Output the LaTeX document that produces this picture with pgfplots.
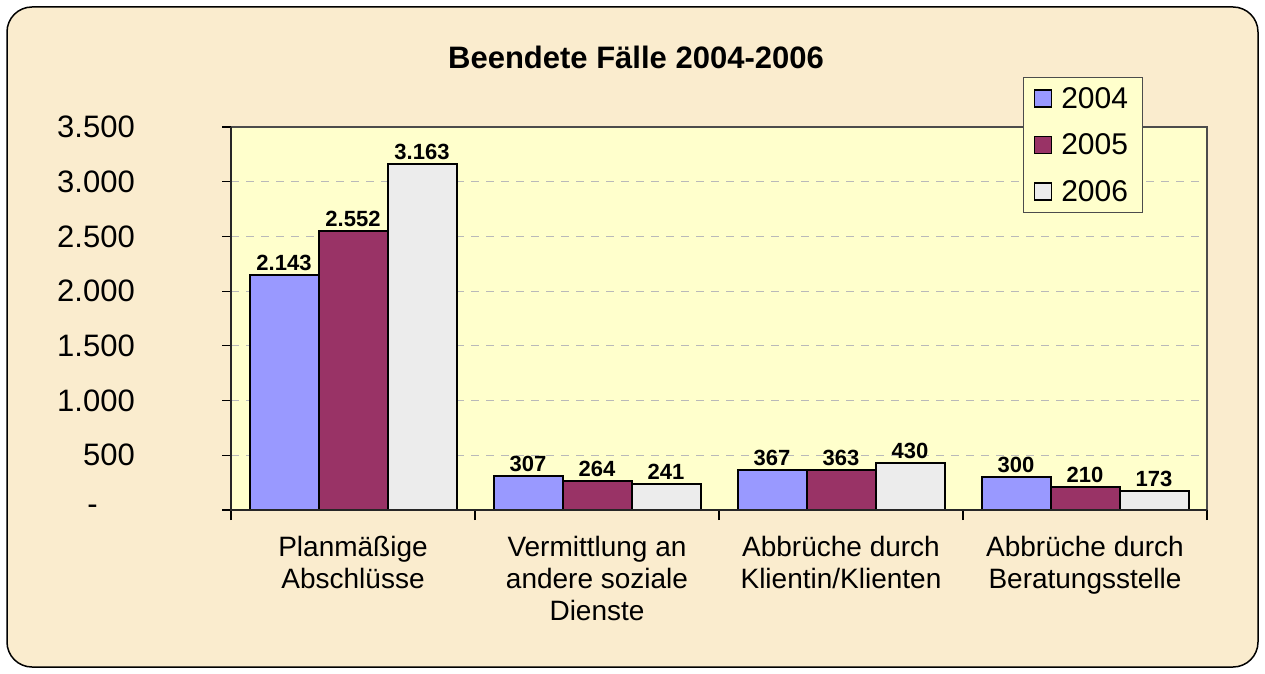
\documentclass[border=0pt]{standalone}
\usepackage{fontspec}
\setmainfont{Liberation Sans}
\usepackage{pgfplots}
\pgfplotsset{compat=1.18}
\definecolor{bgbeige}{RGB}{250,236,206}
\definecolor{plotyellow}{RGB}{255,255,204}
\definecolor{cA}{RGB}{153,153,255}
\definecolor{cB}{RGB}{153,51,102}
\definecolor{cC}{RGB}{236,236,236}
\begin{document}
\begin{tikzpicture}[x=1pt,y=1pt]
\path[use as bounding box] (0,0) rectangle (1265,673);
\draw[line width=1.5pt, fill=bgbeige, rounded corners=25pt] (7,6) rectangle (1258,666);
\node[font=\fontsize{31}{37}\selectfont\bfseries] at (636,616) {Beendete Fälle 2004-2006};
\begin{axis}[
  at={(231pt,163pt)}, anchor=south west,
  scale only axis, width=976pt, height=383pt,
  xmin=0.5, xmax=4.5, ymin=0, ymax=3500,
  clip=false,
  ybar=0pt, bar width=69pt,
  axis line style={draw=none},
  axis background/.style={fill=plotyellow},
  tick pos=left, tick align=outside,
  major tick length=9pt, minor tick length=10pt,
  tick style={black, line width=1.2pt},
  xtick={1,2,3,4},
  xticklabels={{Planmäßige\\Abschlüsse},{Vermittlung an\\andere soziale\\Dienste},{Abbrüche durch\\Klientin/Klienten},{Abbrüche durch\\Beratungsstelle}},
  major x tick style={draw=none},
  minor xtick={0.5,1.5,2.5,3.5,4.5},
  xticklabel style={font=\fontsize{28}{32}\selectfont, align=center, anchor=north, inner sep=0pt, yshift=-17pt},
  ytick={0,500,1000,1500,2000,2500,3000,3500},
  yticklabels={{-\hspace*{37pt}},500,1.000,1.500,2.000,2.500,3.000,3.500},
  yticklabel style={font=\fontsize{31}{37}\selectfont, anchor=east, inner sep=0pt, xshift=-87pt},
  ymajorgrids,
  major grid style={dash pattern=on 8pt off 7pt, gray!55, line width=1pt},
  nodes near coords={\pgfmathprintnumber[1000 sep={.}, assume math mode=true]{\pgfplotspointmeta}},
  every node near coord/.append style={font=\fontsize{22}{26}\selectfont\bfseries, inner sep=3.5pt, black},
  legend style={at={(axis description cs:0.8115,1.1305)}, anchor=north west,
    fill=plotyellow, draw=gray!60!black, line width=1pt,
    font=\fontsize{30}{36}\selectfont, inner sep=10pt, row sep=24pt,
    nodes={inner sep=0pt}},
  legend cell align=left,
  sq/.style={legend image code/.code={\draw[##1, line width=1.5pt] (0pt,-8.5pt) rectangle (17pt,8.5pt); \path[draw=none,fill=none] (0pt,0pt) -- (27pt,0pt);}},
]
\addplot[fill=cA, draw=black, line width=2pt, sq] coordinates {(1,2143) (2,307) (3,367) (4,300)};
\addplot[fill=cB, draw=black, line width=2pt, sq] coordinates {(1,2552) (2,264) (3,363) (4,210)};
\addplot[fill=cC, draw=black, line width=2pt, sq] coordinates {(1,3163) (2,241) (3,430) (4,173)};
\legend{2004\hspace*{4pt},2005\hspace*{4pt},2006\hspace*{4pt}}
\draw[gray!60!black, line width=1.5pt] (rel axis cs:0,1) -- (rel axis cs:1,1) -- (rel axis cs:1,0);
\draw[black!85, line width=1.5pt] (rel axis cs:0,1) -- (rel axis cs:0,0) -- (rel axis cs:1,0);
\end{axis}
\end{tikzpicture}
\end{document}
